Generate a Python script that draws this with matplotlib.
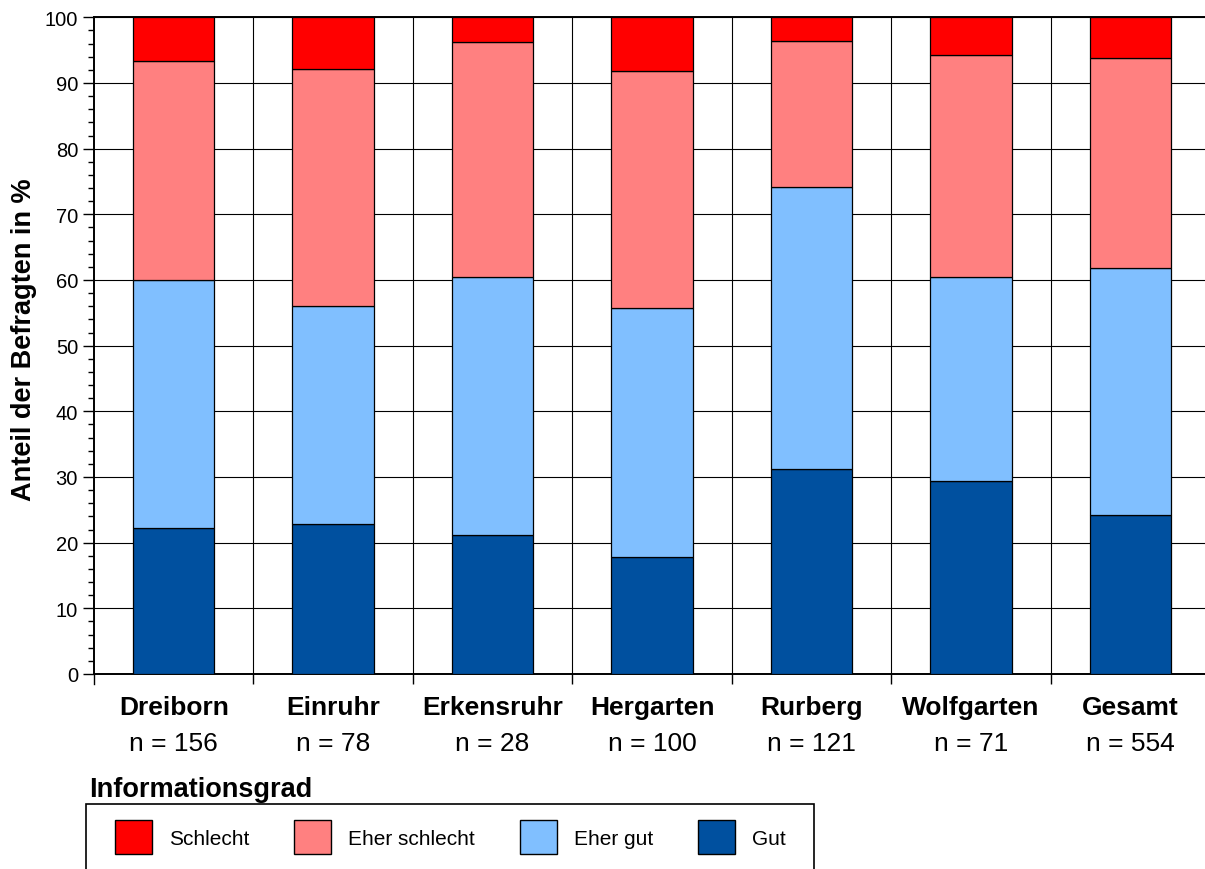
import numpy as np
import matplotlib
matplotlib.use("Agg")
from matplotlib import pyplot as plt
from matplotlib.patches import Patch, Rectangle
from matplotlib.ticker import MultipleLocator
from matplotlib.transforms import blended_transform_factory

plt.rcParams["font.family"] = ["Liberation Sans", "DejaVu Sans"]

# Anteile in %, je Ort von unten nach oben gestapelt
orte = ["Dreiborn", "Einruhr", "Erkensruhr", "Hergarten", "Rurberg", "Wolfgarten", "Gesamt"]
n_befragte = [156, 78, 28, 100, 121, 71, 554]
gut = [22.3, 22.9, 21.2, 17.8, 31.2, 29.4, 24.2]
eher_gut = [37.7, 33.2, 39.3, 37.9, 43.0, 31.0, 37.6]
eher_schlecht = [33.3, 36.0, 35.7, 36.1, 22.2, 33.8, 32.0]
schlecht = [6.7, 7.9, 3.8, 8.2, 3.6, 5.8, 6.2]

stufen = ["Gut", "Eher gut", "Eher schlecht", "Schlecht"]
farben = ["#00509F", "#80BFFF", "#FF8080", "#FF0000"]

W, H = 1205, 870
fig = plt.figure(figsize=(W / 100, H / 100), dpi=100)
ax = fig.add_axes([94 / W, 1 - 675 / H, 1116 / W, (675 - 18.3) / H])

x = np.arange(len(orte))
unten = np.zeros(len(orte))
for werte, farbe in zip((gut, eher_gut, eher_schlecht, schlecht), farben):
    ax.bar(x, werte, width=0.51, bottom=unten, color=farbe,
           edgecolor="black", linewidth=0.9, zorder=3)
    unten += np.array(werte)

ax.set_xlim(-0.5, len(orte) - 0.5)
ax.set_ylim(0, 100)

# Raster: waagerecht alle 10 %, senkrecht zwischen den Orten
ax.yaxis.set_major_locator(MultipleLocator(10))
ax.yaxis.set_minor_locator(MultipleLocator(2))
ax.set_xticks(x)
ax.set_xticklabels([])
ax.set_xticks(x[:-1] + 0.5, minor=True)
ax.set_axisbelow(True)
ax.grid(axis="y", which="major", color="black", linewidth=0.8)
ax.grid(axis="x", which="minor", color="black", linewidth=0.8)

ax.tick_params(axis="y", which="major", length=8, width=1, pad=3.5, labelsize=14.5)
ax.tick_params(axis="y", which="minor", length=4.3, width=1)
ax.tick_params(axis="x", which="major", length=0)
ax.tick_params(axis="x", which="minor", length=7.2, width=1)
# Strich auch unter dem linken Achsenende
ax.plot([-0.5, -0.5], [0, -1.55], color="black", linewidth=1, clip_on=False)

for side in ("left", "bottom", "top"):
    ax.spines[side].set_linewidth(1.4)
ax.spines["right"].set_visible(False)

trans = blended_transform_factory(ax.transData, ax.transAxes)
ax_h = 675 - 18.3
for xi, ort, n in zip(x, orte, n_befragte):
    ax.text(xi, -40 / ax_h, ort, transform=trans, ha="center", va="baseline",
            fontsize=19, fontweight="bold")
    ax.text(xi, -76 / ax_h, f"n = {n}", transform=trans, ha="center",
            va="baseline", fontsize=19)

fig.text(24 / W, 1 - 340 / H, "Anteil der Befragten in %", rotation=90,
         ha="center", va="center", fontsize=19.5, fontweight="bold")

# Legende
fig.text(89 / W, 1 - 797 / H, "Informationsgrad", ha="left", va="baseline",
         fontsize=19.5, fontweight="bold")
handles = [Patch(facecolor=f, edgecolor="black", linewidth=1, label=s)
           for s, f in zip(stufen[::-1], farben[::-1])]
fig.legend(handles=handles, loc="upper left", bbox_to_anchor=(115 / W, 1 - 821 / H),
           ncol=4, frameon=False, fontsize=15, borderpad=0, borderaxespad=0,
           handlelength=1.78, handleheight=2.15, handletextpad=0.82,
           columnspacing=2.15)
fig.add_artist(Rectangle((86 / W, -0.05), (814 - 86) / W, 0.05 + 1 - 805 / H,
                         transform=fig.transFigure, fill=False,
                         edgecolor="black", linewidth=1.2))

fig.savefig("out.png", dpi=100)
